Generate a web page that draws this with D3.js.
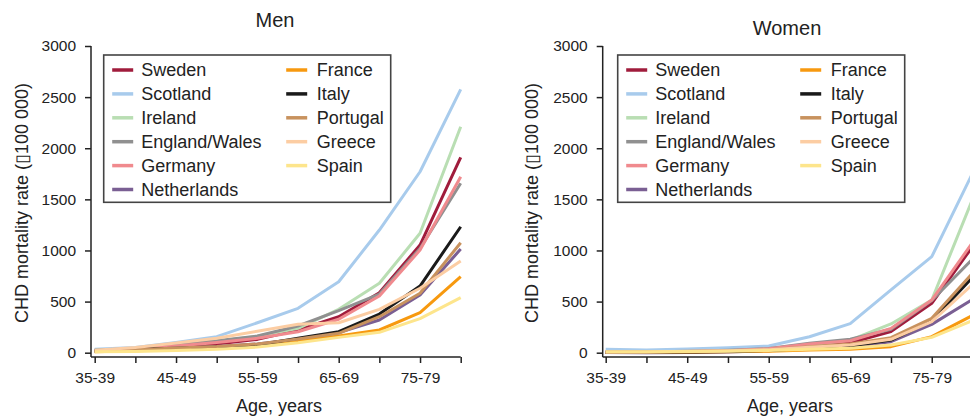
<!DOCTYPE html>
<html>
<head>
<meta charset="utf-8">
<script src="https://cdn.jsdelivr.net/npm/d3@7"></script>
<style>
  html, body { margin: 0; padding: 0; background: #fff; }
  svg { display: block; font-family: "Liberation Sans", Arial, Helvetica, sans-serif; }
</style>
</head>
<body>
<svg id="chart" width="970" height="420"></svg>
<script>
// ---- Data ----
const ages = ["35-39","40-44","45-49","50-54","55-59","60-64","65-69","70-74","75-79","80-84"];
const countries = ["Sweden","Scotland","Ireland","England/Wales","Germany","Netherlands","France","Italy","Portugal","Greece","Spain"];
const colors = ["#a01c3c","#a8cbec","#b9deb3","#909090","#f08a8e","#7a5f93","#f7990f","#1a1a1a","#c8925e","#fccda3","#fde58c"];
const yTicks = [0, 500, 1000, 1500, 2000, 2500, 3000];

const menSweden      = [25, 30, 55, 85, 130, 222, 352, 587, 1053, 1911];
const menScotland    = [33, 50, 100, 157, 293, 434, 694, 1200, 1770, 2576];
const menIreland     = [25, 35, 70, 110, 160, 238, 424, 679, 1168, 2210];
const menEngland     = [25, 40, 80, 117, 163, 261, 411, 574, 1020, 1657];
const menGermany     = [20, 35, 65, 100, 141, 205, 327, 555, 1004, 1721];
const menNetherlands = [15, 25, 40, 60, 85, 131, 196, 320, 564, 1014];
const menFrance      = [10, 18, 30, 45, 65, 117, 163, 222, 391, 743];
const menItaly       = [15, 33, 43, 55, 75, 141, 205, 378, 652, 1232];
const menPortugal    = [15, 30, 45, 60, 85, 134, 190, 352, 581, 1076];
const menGreece      = [25, 50, 95, 141, 210, 278, 293, 424, 630, 897];
const menSpain       = [10, 12, 22, 34, 55, 98, 150, 199, 333, 538];

const womenSweden      = [5, 5, 10, 18, 30, 75, 98, 206, 483, 1038];
const womenScotland    = [33, 26, 36, 49, 66, 156, 284, 615, 939, 1756];
const womenIreland     = [8, 5, 12, 20, 35, 75, 124, 281, 515, 1500];
const womenEngland     = [8, 6, 14, 24, 40, 92, 131, 229, 510, 915];
const womenGermany     = [6, 5, 12, 20, 38, 85, 117, 238, 515, 1077];
const womenNetherlands = [3, 0, 2, 8, 20, 43, 59, 108, 277, 521];
const womenFrance      = [3, 3, 5, 10, 15, 26, 33, 59, 157, 365];
const womenItaly       = [4, 4, 8, 12, 22, 43, 65, 124, 313, 737];
const womenPortugal    = [5, 6, 10, 18, 28, 59, 85, 147, 336, 777];
const womenGreece      = [8, 8, 14, 20, 30, 53, 75, 131, 305, 668];
const womenSpain       = [10, 10, 12, 15, 22, 33, 43, 75, 150, 313];

const menSeries = [menSweden, menScotland, menIreland, menEngland, menGermany, menNetherlands,
                   menFrance, menItaly, menPortugal, menGreece, menSpain];
const womenSeries = [womenSweden, womenScotland, womenIreland, womenEngland, womenGermany, womenNetherlands,
                     womenFrance, womenItaly, womenPortugal, womenGreece, womenSpain];

const yTitle = "CHD mortality rate (\u25AF100 000)";

const svg = d3.select("#chart");
const axisColor = "#222";

function panel(opts) {
  const g = svg.append("g");
  const x = d3.scalePoint().domain(ages).range([opts.x0, opts.x1]);
  const y = d3.scaleLinear().domain([0, 3000]).range([352.7, 46]);
  const axisY = 357;

  // data lines
  const line = d3.line().x((d, i) => x(ages[i])).y(d => y(d));
  opts.series.forEach((s, k) => {
    g.append("path").datum(s)
      .attr("d", line)
      .attr("fill", "none")
      .attr("stroke", colors[k])
      .attr("stroke-width", 3)
      .attr("stroke-linejoin", "round");
  });

  // y axis
  const ya = g.append("g").attr("transform", `translate(${opts.ax},0)`)
    .call(d3.axisLeft(y).tickValues(yTicks).tickSize(6).tickPadding(9).tickFormat(d3.format("d")));
  ya.select(".domain").remove();
  ya.selectAll(".tick line").attr("stroke", axisColor).attr("stroke-width", 1.5);
  ya.selectAll(".tick text").attr("fill", axisColor).style("font-size", "15.5px")
    .style("font-family", '"Liberation Sans", Arial, sans-serif');
  g.append("line").attr("x1", opts.ax).attr("x2", opts.ax).attr("y1", y(3000)).attr("y2", axisY)
    .attr("stroke", axisColor).attr("stroke-width", 1.5);

  // x axis
  const xa = g.append("g").attr("transform", `translate(0,${axisY})`)
    .call(d3.axisBottom(x).tickSize(6).tickPadding(9).tickFormat((d, i) => i % 2 === 0 ? d : ""));
  xa.select(".domain").remove();
  xa.selectAll(".tick line").attr("stroke", axisColor).attr("stroke-width", 1.5);
  xa.selectAll(".tick text").attr("fill", axisColor).style("font-size", "15.5px")
    .style("font-family", '"Liberation Sans", Arial, sans-serif');
  g.append("line").attr("x1", opts.ax).attr("x2", opts.x1).attr("y1", axisY).attr("y2", axisY)
    .attr("stroke", axisColor).attr("stroke-width", 1.5);

  // titles
  g.append("text").attr("x", opts.titleX).attr("y", opts.titleY)
    .attr("text-anchor", "middle").attr("fill", "#222").style("font-size", "20px").text(opts.title);
  g.append("text").attr("x", opts.xTitleX).attr("y", 412)
    .attr("text-anchor", "middle").attr("fill", "#222").style("font-size", "18px").text("Age, years");
  g.append("text").attr("transform", `translate(${opts.yTitleX},203) rotate(-90)`)
    .attr("text-anchor", "middle").attr("dy", "0.35em").attr("fill", "#222").style("font-size", "18px").text(yTitle);

  // legend
  const lg = g.append("g").attr("transform", `translate(${opts.legX},55)`);
  lg.append("rect").attr("x", 0).attr("y", 0).attr("width", 287).attr("height", 147.3)
    .attr("fill", "#fff").attr("stroke", "#444").attr("stroke-width", 1.6);
  countries.forEach((c, k) => {
    const col = k < 6 ? 0 : 1;
    const row = k < 6 ? k : k - 6;
    const cy = 15 + row * 23.9;
    const lx = col === 0 ? 8.5 : 182.5;
    const tx = col === 0 ? 37.5 : 213;
    lg.append("line").attr("x1", lx).attr("x2", lx + 21).attr("y1", cy).attr("y2", cy)
      .attr("stroke", colors[k]).attr("stroke-width", 3.5);
    lg.append("text").attr("x", tx).attr("y", cy).attr("dy", "0.36em")
      .attr("fill", "#222").style("font-size", "18px").text(c);
  });
}

panel({ series: menSeries, title: "Men", ax: 91, x0: 94.7, x1: 460.7, titleX: 275, titleY: 27,
        xTitleX: 279, yTitleX: 22, legX: 103.7 });
panel({ series: womenSeries, title: "Women", ax: 602.7, x0: 605.7, x1: 972.5, titleX: 787, titleY: 35,
        xTitleX: 790, yTitleX: 532, legX: 617.7 });
</script>
</body>
</html>
